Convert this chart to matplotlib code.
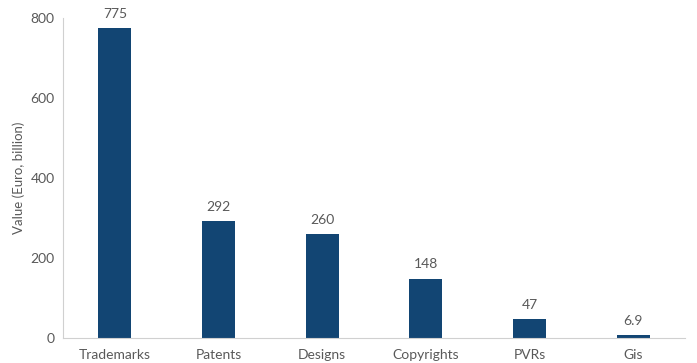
import matplotlib
matplotlib.use("Agg")
import matplotlib.pyplot as plt

categories = ["Trademarks", "Patents", "Designs", "Copyrights", "PVRs", "Gis"]
values = [775, 292, 260, 148, 47, 6.9]
labels = ["775", "292", "260", "148", "47", "6.9"]
yticks = [0, 200, 400, 600, 800]

plt.rcParams['font.family'] = ['Lato', 'DejaVu Sans']
txt = '#595959'
fig = plt.figure(figsize=(6.97, 3.63), dpi=100)
ax = fig.add_axes([63/697, 25/363, (685-63)/697, (338-18)/363])
x = range(len(categories))
bars = ax.bar(x, values, width=0.32, color='#124573')
for xi, v, l in zip(x, values, labels):
    ax.annotate(l, (xi, v), xytext=(0, 6), textcoords='offset points',
                ha='center', va='bottom', fontsize=10, color=txt)
ax.set_xlim(-0.5, len(categories) - 0.5)
ax.set_ylim(0, 800)
ax.set_yticks(yticks)
ax.set_xticks(list(x))
ax.set_xticklabels(categories)
ax.tick_params(axis='both', length=0, labelsize=10, colors=txt)
ax.tick_params(axis='x', pad=8)
ax.tick_params(axis='y', pad=6)
for s in ['top', 'right']:
    ax.spines[s].set_visible(False)
for s in ['left', 'bottom']:
    ax.spines[s].set_color('#d0d0d0')
    ax.spines[s].set_linewidth(0.8)
ax.set_ylabel("Value (Euro, billion)", fontsize=9.5, color=txt, labelpad=4)
fig.savefig("out.png", dpi=100)
